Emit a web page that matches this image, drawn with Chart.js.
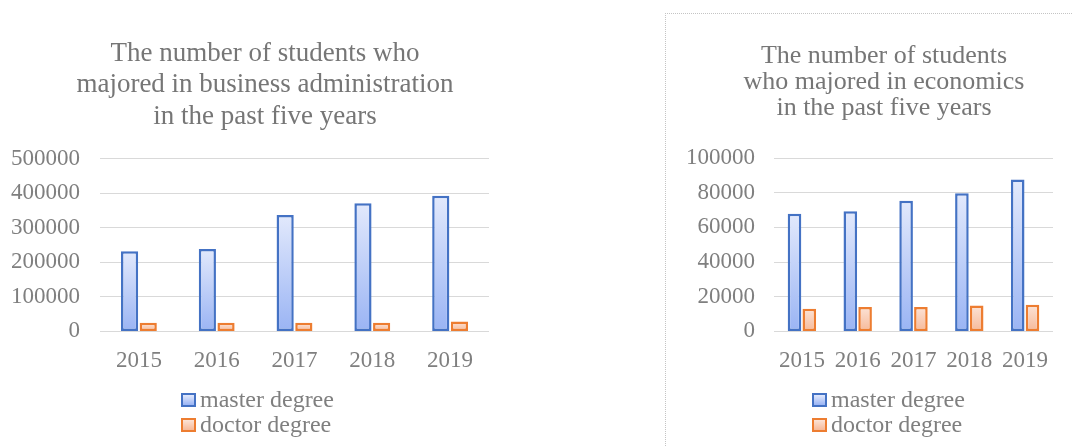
<!DOCTYPE html>
<html>
<head>
<meta charset="utf-8">
<script src="https://cdn.jsdelivr.net/npm/chart.js@4"></script>
<style>
body { margin: 0; background: #fff; width: 1072px; height: 447px; overflow: hidden; position: relative;
  font-family: 'Liberation Serif', 'Times New Roman', serif; }
#leftBox { position: absolute; left: 0; top: 0; width: 530px; height: 391px; }
#rightPanel { position: absolute; left: 665px; top: 13px; width: 406px; height: 434px;
  border-left: 1px dotted #c4c4c4; border-top: 1px dotted #c4c4c4; }
#rightBox { position: absolute; left: 0; top: 0; width: 406px; height: 377px; }
.legend { position: absolute; color: #7f7f7f; font-size: 24px; }
.legend div { display: flex; align-items: center; height: 25px; white-space: nowrap; }
.legend .box { width: 11px; height: 10px; border: 2px solid; margin-right: 4px; }
</style>
</head>
<body>
<div id="leftBox"><canvas id="bizChart"></canvas></div>
<div class="legend" id="bizLegend" style="left:181px; top:387px;"></div>
<div id="rightPanel">
  <div id="rightBox"><canvas id="ecoChart"></canvas></div>
  <div class="legend" id="ecoLegend" style="left:146px; top:373px;"></div>
</div>
<script>
// data
var years = ['2015', '2016', '2017', '2018', '2019'];
var seriesNames = ['master degree', 'doctor degree'];
var bizMaster = [232000, 239000, 337000, 371000, 393000];
var bizDoctor = [25000, 25000, 25000, 25000, 29000];
var ecoMaster = [67900, 69300, 75300, 79700, 87600];
var ecoDoctor = [13100, 14100, 14000, 14900, 15400];
var bizTitle = ['The number of students who', 'majored in business administration', 'in the past five years'];
var ecoTitle = ['The number of students', 'who majored in economics', 'in the past five years'];

var blue = { border: '#4472c4', top: '#e2e9fc', bottom: '#9ab4f4' };
var orange = { border: '#ed7d31', top: '#fce3d6', bottom: '#f6b999' };
var textGray = '#7f7f7f';

Chart.defaults.font.family = "'Liberation Serif', 'Times New Roman', serif";
Chart.defaults.color = textGray;

function barGradient(pal) {
    return function (c) {
        var chart = c.chart;
        if (!chart.chartArea || c.raw == null) return pal.bottom;
        var y = chart.scales.y;
        var g = chart.ctx.createLinearGradient(0, y.getPixelForValue(c.raw), 0, y.getPixelForValue(0));
        g.addColorStop(0, pal.top);
        g.addColorStop(1, pal.bottom);
        return g;
    };
}

function makeDataset(label, data, pal, catPct) {
    return {
        label: label,
        data: data,
        backgroundColor: barGradient(pal),
        borderColor: pal.border,
        borderWidth: 2.5,
        borderSkipped: false,
        categoryPercentage: catPct,
        barPercentage: 0.92
    };
}

function makeChart(id, master, doctor, title, opts) {
    var ctx = document.getElementById(id).getContext('2d');
    return new Chart(ctx, {
        type: 'bar',
        data: {
            labels: years,
            datasets: [
                makeDataset(seriesNames[0], master, blue, opts.catPct),
                makeDataset(seriesNames[1], doctor, orange, opts.catPct)
            ]
        },
        options: {
            responsive: true,
            maintainAspectRatio: false,
            animation: false,
            layout: { padding: opts.padding },
            plugins: {
                legend: { display: false },
                tooltip: { enabled: false },
                title: {
                    display: true,
                    text: title,
                    color: '#767676',
                    font: { size: opts.titleSize, weight: 'normal', lineHeight: opts.titleLine },
                    padding: opts.titlePad
                }
            },
            scales: {
                x: {
                    grid: { display: false, drawTicks: false },
                    border: { display: false },
                    ticks: { font: { size: 23 }, padding: 16, maxRotation: 0 }
                },
                y: {
                    min: 0,
                    max: opts.max,
                    grid: { color: '#d9d9d9', drawTicks: false },
                    border: { display: false },
                    // labels sit left of the axis box, right-aligned (mirror avoids clipping)
                    ticks: {
                        stepSize: opts.step, font: { size: 23 },
                        mirror: true, crossAlign: 'far', padding: opts.tickPad,
                        callback: function (v) { return String(v); }
                    },
                    afterFit: function (scale) { scale.width = 59; }
                }
            }
        }
    });
}

function fillLegend(id) {
    var el = document.getElementById(id);
    [blue, orange].forEach(function (pal, i) {
        var row = document.createElement('div');
        var box = document.createElement('span');
        box.className = 'box';
        box.style.borderColor = pal.border;
        box.style.background = 'linear-gradient(' + pal.top + ',' + pal.bottom + ')';
        row.appendChild(box);
        row.appendChild(document.createTextNode(seriesNames[i]));
        el.appendChild(row);
    });
}

makeChart('bizChart', bizMaster, bizDoctor, bizTitle, {
    catPct: 0.48, max: 500000, step: 100000, tickPad: -89,
    padding: { left: 41, right: 41, top: 0, bottom: 0 },
    titleSize: 27, titleLine: 1.17, titlePad: { top: 38, bottom: 26 }
});
makeChart('ecoChart', ecoMaster, ecoDoctor, ecoTitle, {
    catPct: 0.53, max: 100000, step: 20000, tickPad: -88,
    padding: { left: 49, right: 19, top: 0, bottom: 0 },
    titleSize: 26, titleLine: 1.0, titlePad: { top: 29, bottom: 37 }
});
fillLegend('bizLegend');
fillLegend('ecoLegend');
</script>
</body>
</html>
